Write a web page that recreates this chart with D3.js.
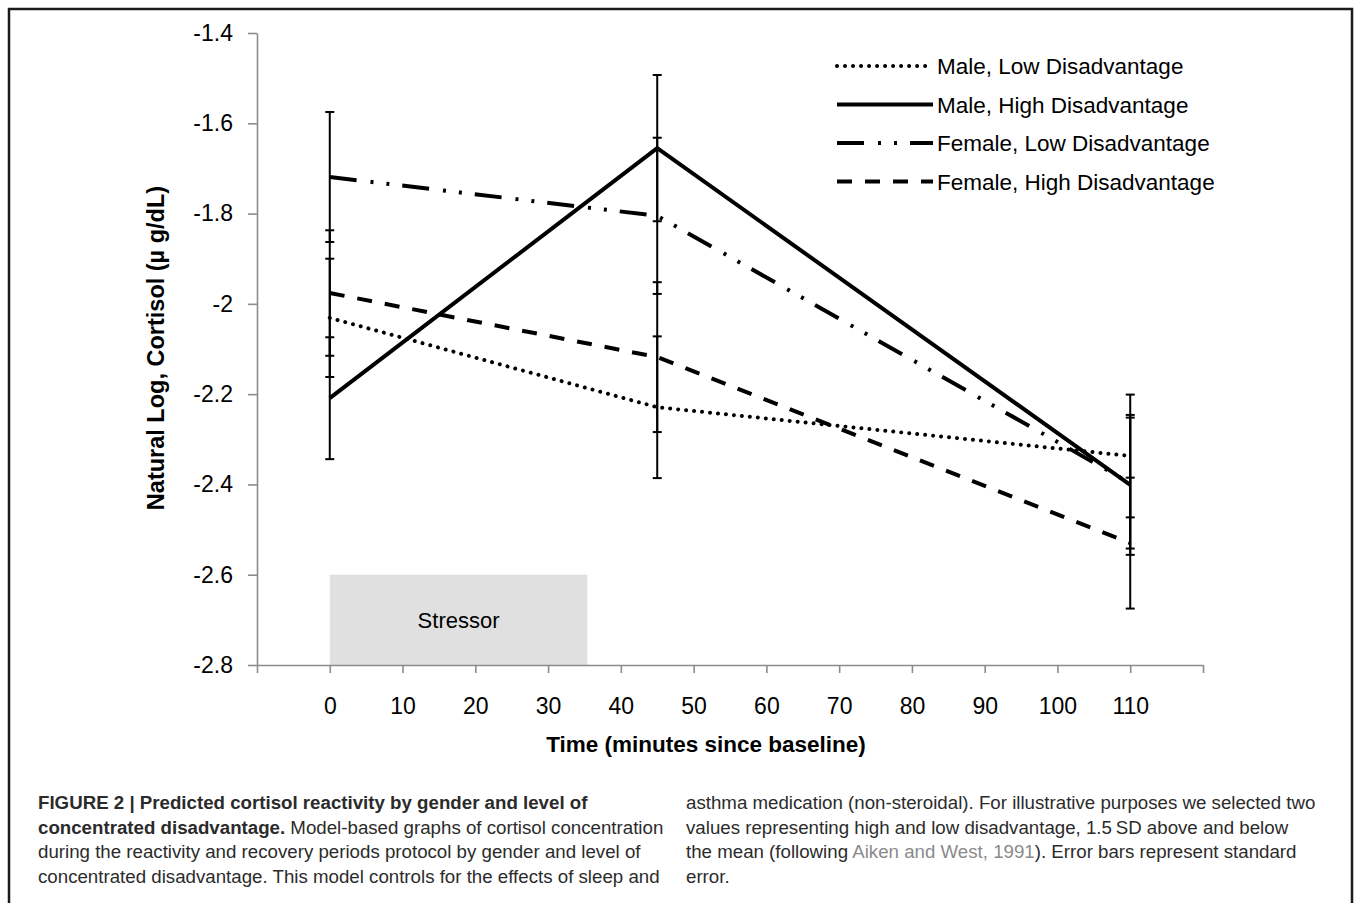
<!DOCTYPE html>
<html>
<head>
<meta charset="utf-8">
<script src="https://cdn.jsdelivr.net/npm/d3@7"></script>
<style>
    body { margin: 0; background: #fff; }
    svg { display: block; }
</style>
</head>
<body>
<script>
// values (natural log of cortisol)
const TIMES = [0, 45, 110];
const SERIES_NAMES = [
    "Male, Low Disadvantage",
    "Male, High Disadvantage",
    "Female, Low Disadvantage",
    "Female, High Disadvantage",
];
const MALE_LOW = [-2.031, -2.229, -2.337];
const MALE_HIGH = [-2.209, -1.655, -2.401];
const FEMALE_LOW = [-1.719, -1.805, -2.397];
const FEMALE_HIGH = [-1.976, -2.118, -2.53];
const MALE_LOW_SE = [0.131, 0.157, 0.136];
const MALE_HIGH_SE = [0.135, 0.162, 0.155];
const FEMALE_LOW_SE = [0.144, 0.173, 0.145];
const FEMALE_HIGH_SE = [0.139, 0.166, 0.145];

const Y_TICKS = [-1.4, -1.6, -1.8, -2, -2.2, -2.4, -2.6, -2.8];
const X_TICKS = [-10, 0, 10, 20, 30, 40, 50, 60, 70, 80, 90, 100, 110, 120];
const X_LABELS = [0, 10, 20, 30, 40, 50, 60, 70, 80, 90, 100, 110];
const STRESSOR_TIME = [0, 35.4];
const STRESSOR_LEVEL = [-2.6, -2.8];

const CAPTION_LEFT = [
    [["FIGURE 2 | Predicted cortisol reactivity by gender and level of", "b"]],
    [["concentrated disadvantage.", "b"], [" Model-based graphs of cortisol concentration", ""]],
    [["during the reactivity and recovery periods protocol by gender and level of", ""]],
    [["concentrated disadvantage. This model controls for the effects of sleep and", ""]],
];
const CAPTION_RIGHT = [
    [["asthma medication (non-steroidal). For illustrative purposes we selected two", ""]],
    [["values representing high and low disadvantage, 1.5\u2009SD above and below", ""]],
    [["the mean (following ", ""], ["Aiken and West, 1991", "link"], ["). Error bars represent standard", ""]],
    [["error.", ""]],
];

const series = [
    { name: SERIES_NAMES[0], values: MALE_LOW, se: MALE_LOW_SE, dash: "0.01 8", cap: "round" },
    { name: SERIES_NAMES[1], values: MALE_HIGH, se: MALE_HIGH_SE, dash: null, cap: "butt" },
    { name: SERIES_NAMES[2], values: FEMALE_LOW, se: FEMALE_LOW_SE, dash: "27 14 3 13 3 13", cap: "butt" },
    { name: SERIES_NAMES[3], values: FEMALE_HIGH, se: FEMALE_HIGH_SE, dash: "15 13", cap: "butt" },
];

const FONT = "'Liberation Sans', Arial, sans-serif";

const svg = d3.select("body").append("svg").attr("width", 1355).attr("height", 903);

// figure frame
svg.append("rect")
    .attr("x", 9)
    .attr("y", 9)
    .attr("width", 1343)
    .attr("height", 1000)
    .attr("fill", "none")
    .attr("stroke", "#1a1a1a")
    .attr("stroke-width", 2.5);

const xScale = d3.scaleLinear().domain([-10, 120]).range([257, 1203]);
const yScale = d3.scaleLinear().domain([-2.8, -1.4]).range([665, 33]);

// stressor block
svg.append("rect")
    .attr("x", xScale(STRESSOR_TIME[0]))
    .attr("y", yScale(STRESSOR_LEVEL[0]))
    .attr("width", xScale(STRESSOR_TIME[1]) - xScale(STRESSOR_TIME[0]))
    .attr("height", yScale(STRESSOR_LEVEL[1]) - yScale(STRESSOR_LEVEL[0]))
    .attr("fill", "#e0e0e0");
svg.append("text")
    .attr("x", xScale((STRESSOR_TIME[0] + STRESSOR_TIME[1]) / 2))
    .attr("y", (yScale(STRESSOR_LEVEL[0]) + yScale(STRESSOR_LEVEL[1])) / 2 + 8)
    .attr("text-anchor", "middle")
    .style("font", `22px ${FONT}`)
    .text("Stressor");

// axes
const yAxis = svg.append("g")
    .attr("transform", "translate(257,0)")
    .call(d3.axisLeft(yScale)
        .tickValues(Y_TICKS)
        .tickSize(9)
        .tickSizeOuter(0)
        .tickPadding(15)
        .tickFormat((d) => String(d)));
const xAxis = svg.append("g")
    .attr("transform", "translate(0,665)")
    .call(d3.axisBottom(xScale)
        .tickValues(X_TICKS)
        .tickSize(8)
        .tickSizeOuter(0)
        .tickPadding(25)
        .tickFormat((d) => (X_LABELS.includes(d) ? d : "")));

[yAxis, xAxis].forEach((ax) => {
    ax.select(".domain").attr("stroke", "#8c8c8c").attr("stroke-width", 1.6);
    ax.selectAll(".tick line").attr("stroke", "#8c8c8c").attr("stroke-width", 1.6);
    ax.selectAll(".tick text").attr("fill", "#000").style("font", `23px ${FONT}`);
});

svg.append("text")
    .attr("x", 706)
    .attr("y", 752)
    .attr("text-anchor", "middle")
    .style("font", `bold 22.5px ${FONT}`)
    .text("Time (minutes since baseline)");
svg.append("text")
    .attr("transform", "translate(164,348) rotate(-90)")
    .attr("text-anchor", "middle")
    .style("font", `bold 23.5px ${FONT}`)
    .text("Natural Log, Cortisol (\u00b5 g/dL)");

// error bars
const bars = svg.append("g");
series.forEach((s) => {
    s.values.forEach((v, i) => {
        const x = xScale(TIMES[i]);
        const top = yScale(v + s.se[i]);
        const bottom = yScale(v - s.se[i]);
        bars.append("line")
            .attr("x1", x).attr("x2", x)
            .attr("y1", top).attr("y2", bottom)
            .attr("stroke", "#000").attr("stroke-width", 2);
        [top, bottom].forEach((y) => {
            bars.append("line")
                .attr("x1", x - 4.5).attr("x2", x + 4.5)
                .attr("y1", y).attr("y2", y)
                .attr("stroke", "#000").attr("stroke-width", 2);
        });
    });
});

// series lines
const line = d3.line()
    .x((d, i) => xScale(TIMES[i]))
    .y((d) => yScale(d));

svg.selectAll(".series")
    .data(series)
    .enter()
    .append("path")
    .classed("series", true)
    .attr("d", (s) => line(s.values))
    .attr("fill", "none")
    .attr("stroke", "#000")
    .attr("stroke-width", 4)
    .attr("stroke-linecap", (s) => s.cap)
    .attr("stroke-linejoin", "round")
    .attr("stroke-dasharray", (s) => s.dash);

// legend
const legend = svg.append("g").attr("transform", "translate(837,66)");
const rows = legend.selectAll(".row")
    .data(series)
    .enter()
    .append("g")
    .attr("transform", (s, i) => `translate(0,${i * 38.5})`);
rows.append("line")
    .attr("x1", 0).attr("x2", 96)
    .attr("stroke", "#000")
    .attr("stroke-width", 4)
    .attr("stroke-linecap", (s) => s.cap)
    .attr("stroke-dasharray", (s) => s.dash);
rows.append("text")
    .attr("x", 100)
    .attr("y", 8)
    .style("font", `22.5px ${FONT}`)
    .text((s) => s.name);

// caption
function caption(lines, x) {
    lines.forEach((parts, i) => {
        const t = svg.append("text")
            .attr("x", x)
            .attr("y", 809 + i * 24.5)
            .style("font", `18.7px ${FONT}`)
            .attr("fill", "#2b2b2b");
        parts.forEach(([str, kind]) => {
            t.append("tspan")
                .attr("font-weight", kind === "b" ? "bold" : "normal")
                .attr("fill", kind === "link" ? "#8a8a8a" : null)
                .text(str);
        });
    });
}
caption(CAPTION_LEFT, 38);
caption(CAPTION_RIGHT, 686);
</script>
</body>
</html>
